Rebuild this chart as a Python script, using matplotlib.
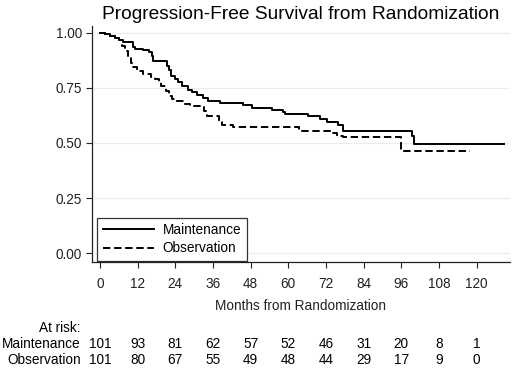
import numpy as np
import matplotlib
matplotlib.use("Agg")
import matplotlib.pyplot as plt
from matplotlib.transforms import blended_transform_factory

plt.rcParams["font.family"] = ["Liberation Sans", "DejaVu Sans"]

# Kaplan-Meier steps (month, survival after the drop)
maint_t = [0, 1.6, 3.2, 4.8, 6.2, 7.4, 10.6, 11.1, 13.8, 15.7, 16.5, 17.0,
           21.4, 22.0, 22.8, 23.9, 24.9, 26.0, 28.1, 29.2, 30.8, 32.9, 34.5,
           38.2, 45.6, 48.3, 54.7, 58.4, 58.9, 66.3, 70.1, 72.2, 75.9, 77.5,
           99.3, 100.0, 128.6]
maint_s = [1.0, 0.992, 0.985, 0.977, 0.967, 0.959, 0.937, 0.928, 0.92, 0.913,
           0.894, 0.872, 0.849, 0.831, 0.804, 0.789, 0.774, 0.759, 0.741, 0.729,
           0.718, 0.706, 0.688, 0.679, 0.671, 0.658, 0.65, 0.641, 0.63, 0.62,
           0.608, 0.596, 0.581, 0.553, 0.53, 0.495, 0.495]

obs_t = [0, 1.6, 3.2, 4.8, 6.2, 7.2, 8.0, 9.0, 9.9, 10.6, 11.7, 13.8, 16.2,
         17.5, 18.8, 19.6, 21.2, 22.1, 23.1, 24.2, 26.9, 28.7, 33.2, 34.0,
         38.0, 39.0, 42.5, 63.5, 74.1, 75.4, 77.5, 95.8, 117.9]
obs_s = [1.0, 0.992, 0.985, 0.977, 0.967, 0.94, 0.917, 0.894, 0.864, 0.842,
         0.827, 0.811, 0.80, 0.789, 0.777, 0.759, 0.736, 0.713, 0.698, 0.691,
         0.676, 0.668, 0.646, 0.623, 0.60, 0.581, 0.573, 0.555, 0.545, 0.532,
         0.525, 0.465, 0.465]

risk_months = [0, 12, 24, 36, 48, 60, 72, 84, 96, 108, 120]
risk_maint = [101, 93, 81, 62, 57, 52, 46, 31, 20, 8, 1]
risk_obs = [101, 80, 67, 55, 49, 48, 44, 29, 17, 9, 0]

yticks = [0.0, 0.25, 0.5, 0.75, 1.0]

W, H = 520, 371
FS = 9.8
fig = plt.figure(figsize=(W / 100, H / 100), dpi=100)
ax = fig.add_axes([91.7 / W, 1 - 261.7 / H, (510 - 91.7) / W, (261.7 - 26) / H])

for y in yticks:
    ax.axhline(y, color="#ececec", lw=0.8, zorder=0)

ax.step(maint_t, maint_s, where="post", color="black", lw=1.4,
        label="Maintenance")
ax.step(obs_t, obs_s, where="post", color="black", lw=1.4,
        linestyle=(0, (3.8, 1.9)), label="Observation")

ax.set_xlim(-2.6, 130.6)
ax.set_ylim(-0.038, 1.03)
ax.set_xticks(risk_months)
ax.set_yticks(yticks)
ax.set_yticklabels([f"{v:.2f}" for v in yticks])
ax.tick_params(direction="out", length=4, width=0.8, labelsize=FS,
               colors="#222222", pad=3)
ax.tick_params(axis="x", pad=7)
for s in ["top", "right"]:
    ax.spines[s].set_visible(False)
for s in ["left", "bottom"]:
    ax.spines[s].set_color("#222222")
    ax.spines[s].set_linewidth(0.9)

ax.set_xlabel("Months from Randomization", fontsize=FS, labelpad=6,
              color="#222222")
ax.set_title("Progression-Free Survival from Randomization", fontsize=13.8,
             pad=5)

leg = ax.legend(loc="lower left", bbox_to_anchor=(0.013, 0.004), fontsize=FS,
                handlelength=3.8, frameon=True, fancybox=False,
                borderpad=0.4, labelspacing=0.3, borderaxespad=0,
                handletextpad=0.6)
leg.get_frame().set_edgecolor("black")
leg.get_frame().set_linewidth(0.9)

tr = blended_transform_factory(ax.transData, fig.transFigure)
xlab = 80.5 / W
fig.text(xlab, 1 - 328.5 / H, "At risk:", ha="right", va="center", fontsize=FS)
fig.text(xlab, 1 - 344 / H, "Maintenance", ha="right", va="center",
         fontsize=FS)
fig.text(xlab, 1 - 359.5 / H, "Observation", ha="right", va="center",
         fontsize=FS)
for m, a, b in zip(risk_months, risk_maint, risk_obs):
    ax.text(m, 1 - 344 / H, str(a), ha="center", va="center", fontsize=FS,
            transform=tr)
    ax.text(m, 1 - 359.5 / H, str(b), ha="center", va="center", fontsize=FS,
            transform=tr)

fig.savefig("out.png", dpi=100, facecolor="white")
